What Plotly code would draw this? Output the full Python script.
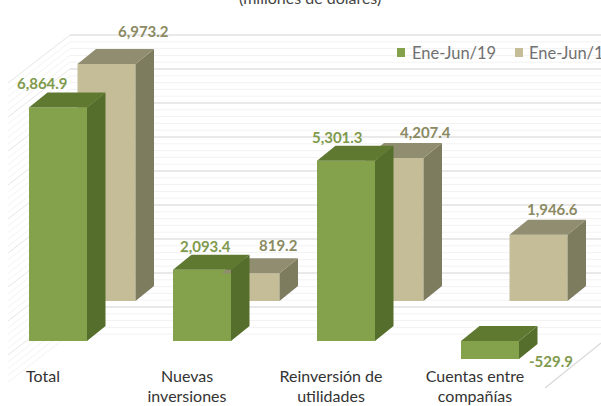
import plotly.graph_objects as go

categories = ["Total", "Nuevas<br>inversiones", "Reinversión de<br>utilidades", "Cuentas entre<br>compañías"]
series_2019 = [6864.9, 2093.4, 5301.3, -529.9]
series_2018 = [6973.2, 819.2, 4207.4, 1946.6]
name_2019 = "Ene-Jun/19"
name_2018 = "Ene-Jun/18"
subtitle = "(millones de dólares)"
grid_values = list(range(200, 9200, 200))

W, H = 601, 406
PX_X = 144.0          # pixels per category
PX_Y = 0.034          # pixels per value unit
X0, Y0 = 43.0, 341.0  # pixel of category 0 / value 0
FONT = "Lato"

GREEN = ("#83A24B", "#5F7A30", "#566E2B")
BEIGE = ("#C4BD97", "#908D70", "#7E7C5E")
GREEN_TXT, BEIGE_TXT = "#7F9A4C", "#8B8A62"


def ux(px):
    return px / PX_X


def uy(px):
    return px / PX_Y


BAR_W = ux(58)
DEPTH_X, DEPTH_Y = ux(18.5), uy(15)
OFF_GREEN = ux(15)
OFF_BEIGE = ux(63.5)
BASE_BEIGE = uy(40)

idx = list(range(len(categories)))
fig = go.Figure()

# front faces
fig.add_trace(go.Bar(x=[i + OFF_BEIGE for i in idx], y=series_2018, base=[BASE_BEIGE] * 4,
                     width=BAR_W, marker=dict(color=BEIGE[0], line_width=0), name=name_2018))
fig.add_trace(go.Bar(x=[i + OFF_GREEN for i in idx], y=series_2019, base=[0] * 4,
                     width=BAR_W, marker=dict(color=GREEN[0], line_width=0), name=name_2019))


def faces(values, off, base, cols):
    for i, v in enumerate(values):
        xl, xr = i + off - BAR_W / 2, i + off + BAR_W / 2
        lo, hi = base + min(v, 0), base + max(v, 0)
        fig.add_trace(go.Scatter(
            x=[xr, xr + DEPTH_X, xr + DEPTH_X, xr, xr], y=[lo, lo + DEPTH_Y, hi + DEPTH_Y, hi, lo],
            mode="lines", fill="toself", fillcolor=cols[2], line=dict(width=0), hoverinfo="skip"))
        fig.add_trace(go.Scatter(
            x=[xl, xr, xr + DEPTH_X, xl + DEPTH_X, xl], y=[hi, hi, hi + DEPTH_Y, hi + DEPTH_Y, hi],
            mode="lines", fill="toself", fillcolor=cols[1], line=dict(width=0), hoverinfo="skip"))


faces(series_2018, OFF_BEIGE, BASE_BEIGE, BEIGE)
faces(series_2019, OFF_GREEN, 0, GREEN)

# walls (back and left) and floor edge
shapes = []
wall_x = ux(70 - X0)
wall_end = ux(W + 5 - X0)
left_x = ux(8 - X0)
left_drop = uy(48)
for g in grid_values:
    major = g % 1000 == 0
    col = "#E2E2E2" if major else "#F2F2F2"
    wid = 1.5 if major else 1
    shapes.append(dict(type="line", xref="x", yref="y", layer="below", x0=wall_x, x1=wall_end, y0=g, y1=g,
                       line=dict(color=col, width=wid)))
    shapes.append(dict(type="line", xref="x", yref="y", layer="below", x0=wall_x, x1=left_x, y0=g, y1=g - left_drop,
                       line=dict(color="#E6E6E6" if major else "#F3F3F3", width=1)))
shapes.append(dict(type="line", xref="x", yref="y", layer="below", x0=ux(545 - X0), x1=ux(601 - X0),
                   y0=uy(341 - 388), y1=uy(341 - 343), line=dict(color="#D8D8D8", width=1.2)))
# legend swatches
for x0, col in ((397, GREEN[0]), (515, BEIGE[0])):
    shapes.append(dict(type="rect", xref="paper", yref="paper", x0=x0 / W, x1=(x0 + 8) / W,
                       y0=1 - 57 / H, y1=1 - 48 / H, fillcolor=col, line_width=0))

ann = []
g_shift = [(-16, 24.5), (3, 24), (-8.5, 24), (61, -2)]
b_shift = [(36.5, 33), (27.5, 28), (30.5, 26), (14, 26)]
for i, v in enumerate(series_2019):
    ann.append(dict(x=i + OFF_GREEN, y=v, xref="x", yref="y", text=f"{v:,.1f}", showarrow=False,
                    xshift=g_shift[i][0], yshift=g_shift[i][1],
                    font=dict(family=FONT, size=15, color=GREEN_TXT, weight="bold")))
for i, v in enumerate(series_2018):
    ann.append(dict(x=i + OFF_BEIGE, y=BASE_BEIGE + v, xref="x", yref="y", text=f"{v:,.1f}", showarrow=False,
                    xshift=b_shift[i][0], yshift=b_shift[i][1],
                    font=dict(family=FONT, size=15, color=BEIGE_TXT, weight="bold")))
for x0, name in ((410, name_2019), (527, name_2018)):
    ann.append(dict(x=x0 / W, y=1 - 53 / H, xref="paper", yref="paper", xanchor="left", yanchor="middle",
                    text=name, showarrow=False, font=dict(family=FONT, size=16.5, color="#707070")))
ann.append(dict(x=310 / W, y=1 - 9 / H, xref="paper", yref="paper", xanchor="center", yanchor="bottom",
                text=subtitle, showarrow=False, font=dict(family=FONT, size=16, color="#444444")))

fig.update_layout(
    width=W, height=H, margin=dict(l=0, r=0, t=0, b=0, autoexpand=False), autosize=False,
    paper_bgcolor="white", plot_bgcolor="white", showlegend=False, barmode="overlay",
    shapes=shapes, annotations=ann,
    xaxis=dict(range=[ux(-X0), ux(W - X0)], tickvals=idx, ticktext=categories, showgrid=False,
               zeroline=False, showline=False, ticks="", anchor="free", position=1 - 364.5 / H, automargin=False,
               tickfont=dict(family=FONT, size=16, color="#333333")),
    yaxis=dict(range=[uy(Y0 - H), uy(Y0)], showgrid=False, zeroline=False, showticklabels=False, ticks="",
               automargin=False),
)
fig.write_html("out.html", config={"displayModeBar": False},
               post_script="document.body.style.margin='0';document.body.style.overflow='hidden';")
